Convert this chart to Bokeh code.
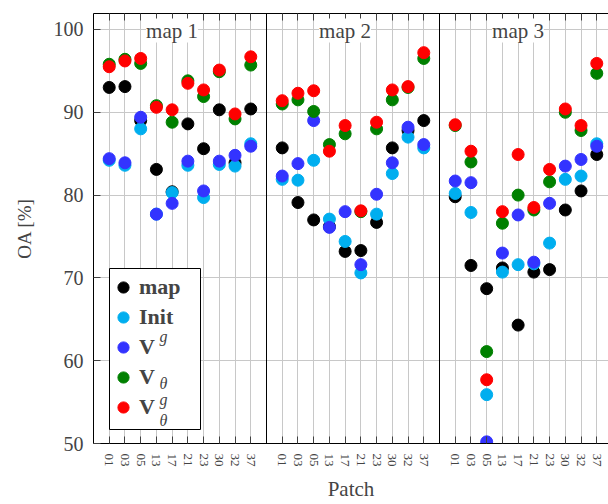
from bokeh.plotting import figure
from bokeh.models import (Range1d, FixedTicker, LinearAxis, Span, Label,
                          Legend, LegendItem, BoxAnnotation)
from bokeh.embed import file_html
from bokeh.resources import INLINE

# ---------------- data ----------------
patches = ["01", "03", "05", "13", "17", "21", "23", "30", "32", "37"]
panel_titles = ["map 1", "map 2", "map 3"]
y_ticks = [50, 60, 70, 80, 90, 100]

map_m1 = [93.0, 93.1, 89.0, 83.1, 80.4, 88.6, 85.6, 90.3, 83.9, 90.4]
init_m1 = [84.2, 83.6, 88.0, 77.7, 80.3, 83.6, 79.7, 83.7, 83.5, 86.2]
vg_m1 = [84.4, 83.9, 89.4, 77.7, 79.0, 84.1, 80.5, 84.1, 84.8, 85.9]
vt_m1 = [95.8, 96.4, 95.9, 90.8, 88.8, 93.8, 91.9, 94.9, 89.2, 95.7]
vtg_m1 = [95.5, 96.2, 96.5, 90.6, 90.3, 93.5, 92.7, 95.1, 89.8, 96.7]

map_m2 = [85.7, 79.1, 77.0, 76.2, 73.2, 73.3, 76.7, 85.7, 87.8, 89.0]
init_m2 = [81.9, 81.8, 84.2, 77.1, 74.4, 70.6, 77.7, 82.6, 87.0, 85.7]
vg_m2 = [82.3, 83.8, 89.0, 76.1, 78.0, 71.6, 80.1, 83.9, 88.2, 86.1]
vt_m2 = [91.0, 91.5, 90.1, 86.1, 87.4, 78.0, 88.0, 91.5, 93.0, 96.5]
vtg_m2 = [91.4, 92.3, 92.6, 85.3, 88.4, 78.1, 88.8, 92.7, 93.1, 97.2]

map_m3 = [79.8, 71.5, 68.7, 71.2, 64.3, 70.7, 71.0, 78.2, 80.5, 84.9]
init_m3 = [80.2, 77.9, 55.9, 70.7, 71.6, 71.7, 74.2, 81.9, 82.3, 86.2]
vg_m3 = [81.7, 81.5, 50.2, 73.0, 77.6, 71.9, 79.0, 83.5, 84.3, 85.9]
vt_m3 = [88.4, 84.0, 61.1, 76.6, 80.0, 78.2, 81.6, 90.0, 87.8, 94.7]
vtg_m3 = [88.5, 85.3, 57.7, 78.0, 84.9, 78.5, 83.1, 90.4, 88.4, 95.9]

series_names = ["map", "Init", "V", "V", "V"]
series_colors = ["#000000", "#00aeef", "#3333ff", "#008000", "#ff0000"]
series_data = [
    [map_m1, map_m2, map_m3],
    [init_m1, init_m2, init_m3],
    [vg_m1, vg_m2, vg_m3],
    [vt_m1, vt_m2, vt_m3],
    [vtg_m1, vtg_m2, vtg_m3],
]

FONT = "Liberation Serif"
n = len(patches)
step = n + 1
xs = [k * step + i + 1 for k in range(len(panel_titles)) for i in range(n)]

W, H = 608, 504
ML, MT, MB = 93, 13, 60
FW, FH = W - ML, H - MT - MB
px_per_unit = 173.0 / step
x_end = FW / px_per_unit

p = figure(width=W, height=H, output_backend="svg", toolbar_location=None,
           x_range=Range1d(0, x_end), y_range=Range1d(50, 101.93),
           min_border_left=ML, min_border_right=0, min_border_top=MT,
           min_border_bottom=MB)
p.outline_line_color = None
p.background_fill_color = "white"

# axes
xticker = FixedTicker(ticks=xs)
overrides = {x: patches[i % n] for i, x in enumerate(xs)}
xa = p.xaxis[0]
xa.ticker = xticker
xa.major_label_overrides = overrides
xa.major_label_orientation = -1.5708
xa.major_label_text_font = FONT
xa.major_label_text_font_size = "13px"
xa.major_label_standoff = 10
xa.major_tick_in = 7
xa.major_tick_out = 0
xa.minor_tick_line_color = None
xa.major_tick_line_color = "#404040"
xa.axis_line_color = "black"
xa.axis_label = "Patch"
xa.axis_label_text_font = FONT
xa.axis_label_text_font_size = "21px"
xa.axis_label_text_font_style = "normal"
xa.axis_label_standoff = 8

ya = p.yaxis[0]
ya.ticker = FixedTicker(ticks=y_ticks)
ya.major_label_text_font = FONT
ya.major_label_text_font_size = "20px"
ya.major_label_standoff = 10
ya.major_tick_in = 7
ya.major_tick_out = 0
ya.minor_tick_line_color = None
ya.major_tick_line_color = "#404040"
ya.axis_line_color = "black"
ya.axis_label = "OA [%]"
ya.axis_label_text_font = FONT
ya.axis_label_text_font_size = "19px"
ya.axis_label_text_font_style = "normal"
ya.axis_label_standoff = 16

top = LinearAxis(ticker=xticker, major_label_overrides={x: "" for x in xs},
                 major_label_text_font_size="6px",
                 major_label_standoff=0, major_tick_in=7, major_tick_out=0,
                 minor_tick_line_color=None, major_tick_line_color="#404040",
                 axis_line_color="black")
p.add_layout(top, "above")

p.xgrid[0].ticker = xticker
p.ygrid[0].ticker = FixedTicker(ticks=y_ticks)
for g in (p.xgrid[0], p.ygrid[0]):
    g.grid_line_color = "#c8c8c8"
    g.grid_line_width = 1

for k in range(1, len(panel_titles)):
    p.add_layout(Span(location=k * step, dimension="height",
                      line_color="black", line_width=1))

renderers = []
for name, color, data in zip(series_names, series_colors, series_data):
    ys = [v for panel in data for v in panel]
    r = p.scatter(xs, ys, size=12, fill_color=color, line_color=color)
    renderers.append(r)

for k, t in enumerate(panel_titles):
    p.add_layout(Label(x=k * step + step / 2.0, y=FH - 18, y_units="screen",
                       x_offset=-8, text=t, text_align="center",
                       text_baseline="alphabetic", text_font=FONT,
                       text_font_size="21px", background_fill_color="white"))

# legend: white framed box behind a transparent legend
LX, LY, LW, LH = 16, 14, 91, 161
p.add_layout(BoxAnnotation(left=LX, right=LX + LW, bottom=LY, top=LY + LH,
                           left_units="screen", right_units="screen",
                           bottom_units="screen", top_units="screen",
                           fill_color="white", fill_alpha=1,
                           line_color="black", line_width=1, line_alpha=1))

legend = Legend(items=[LegendItem(label=nm, renderers=[r])
                       for nm, r in zip(series_names, renderers)],
                location=(LX, LY + 8), orientation="vertical",
                glyph_width=28, glyph_height=28, label_height=28,
                label_width=51, label_standoff=2, spacing=2, padding=5,
                margin=0,
                label_text_font=FONT, label_text_font_size="22px",
                label_text_font_style="bold",
                border_line_color=None, background_fill_alpha=0)
p.add_layout(legend)

# super/subscripts for the V entries of the legend
scripts = [("g", 66, 107), ("\u03b8", 66, 60), ("g", 66, 44), ("\u03b8", 66, 23)]
for txt, sx, sy in scripts:
    p.add_layout(Label(x=sx, y=sy, x_units="screen", y_units="screen", text=txt,
                       text_font=FONT, text_font_size="16px",
                       text_font_style="italic", text_baseline="alphabetic",
                       level="overlay"))

open("out.html", "w").write(file_html(p, INLINE))
